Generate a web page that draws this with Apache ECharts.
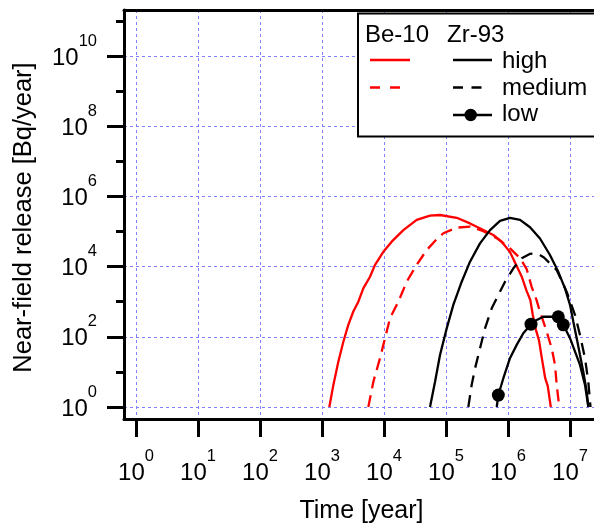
<!DOCTYPE html>
<html>
<head>
<meta charset="utf-8">
<script src="https://cdn.jsdelivr.net/npm/echarts@6/dist/echarts.min.js"></script>
<style>
html,body{margin:0;padding:0;background:#fff;}
#chart{width:594px;height:529px;}
</style>
</head>
<body>
<div id="chart"></div>
<script>
// ---- data (time in years, release in Bq/year) ----
const beHighT = [1312, 1524, 1832, 2208, 2655, 3199, 3855, 4634, 5943, 7161, 9750, 13300, 20500, 33650, 55200, 80000, 148600, 243800, 400000, 579400, 790700, 1.07e6, 1.38e6, 1.66e6, 2.0e6, 2.29e6, 2.51e6, 2.82e6, 3.16e6, 3.47e6, 3.98e6, 4.37e6, 4.9e6];
const beHighV = [1, 4.24, 19.5, 72.4, 219, 525, 1000, 2399, 5129, 11220, 26300, 51300, 109600, 213800, 281800, 295100, 245500, 169800, 109600, 79400, 51300, 26300, 10470, 5250, 2000, 1122, 417, 158, 79.4, 28.2, 6.6, 3.98, 1];

const beMedT = [5585, 6730, 8610, 10380, 12500, 17020, 23230, 33650, 48750, 70800, 90600, 148600, 243800, 400000, 657700, 1.076e6, 1.563e6, 2.0e6, 2.4e6, 2.88e6, 3.28e6, 4.2e6, 5.07e6, 5.73e6, 6.1e6, 6.71e6];
const beMedV = [1, 5.25, 24.5, 91.2, 339, 1000, 3715, 11220, 29510, 60260, 89100, 128800, 138000, 102300, 64570, 33110, 17380, 8510, 2690, 1122, 525, 141, 46.8, 15.8, 4.27, 1];

const zrHighT = [55200, 66530, 80000, 102600, 131200, 179100, 243800, 353200, 512900, 743000, 1.076e6, 1.563e6, 2.265e6, 3.28e6, 4.75e6, 6.47e6, 8.3e6, 1.0e7, 1.132e7, 1.282e7, 1.449e7, 1.64e7, 1.858e7, 1.977e7];
const zrHighV = [1, 5.25, 30.2, 174, 813, 3715, 13800, 45700, 109600, 199500, 245500, 213800, 131800, 63100, 21380, 7080, 2400, 813, 269, 91.2, 30.2, 10, 2.75, 1];

const zrMedT = [229100, 259400, 293800, 353200, 425600, 545800, 698200, 895400, 1.219e6, 1.663e6, 2.24e6, 2.904e6, 3.8e6, 6.1e6, 8.85e6, 1.205e7, 1.449e7, 1.746e7, 1.972e7, 2.14e7];
const zrMedV = [1, 4.27, 12.6, 46.8, 174, 646, 1549, 3715, 8913, 17380, 22900, 23990, 18200, 7943, 1905, 417, 112, 24.5, 5.25, 1];

const zrLowT = [657700, 698200, 841400, 1.076e6, 1.38e6, 1.766e6, 2.35e6, 2.904e6, 3.715e6, 5.07e6, 6.47e6, 7.8e6, 1.0e7, 1.205e7, 1.449e7, 1.746e7, 1.977e7];
const zrLowV = [1, 2.19, 6.6, 24.5, 58.9, 126, 229, 302, 372, 372, 372, 219, 91.2, 38, 15.8, 4.27, 1];
const zrLowMarker = [0, 1, 0, 0, 0, 0, 1, 0, 0, 0, 1, 1, 0, 0, 0, 0, 0];

// tick values
const xTicks = [1, 10, 100, 1e3, 1e4, 1e5, 1e6, 1e7];
const yMajorTicks = [1, 1e2, 1e4, 1e6, 1e8, 1e10];
const yMinorTicks = [10, 1e3, 1e5, 1e7, 1e9, 1e11];

const xTitle = 'Time [year]';
const yTitle = 'Near-field release [Bq/year]';
const legendHeads = ['Be-10', 'Zr-93'];
const legendLabels = ['high', 'medium', 'low'];

// ---- chart ----
const X_MIN = Math.pow(10, -0.194), X_MAX = Math.pow(10, 7.387);
const Y_MIN = Math.pow(10, -0.342), Y_MAX = Math.pow(10, 11.31);
const FONT = '"Liberation Sans", Arial, sans-serif';

function zip(t, v) { return t.map((x, i) => [x, v[i]]); }
function powLabel(v) {
  const e = Math.round(Math.log10(v));
  return '{b|10}{s|' + e + '}';
}
const richLabel = {
  b: { fontSize: 24, fontFamily: FONT, color: '#000', padding: [4, 0, 0, 0] },
  s: { fontSize: 16.5, fontFamily: FONT, color: '#000', padding: [0, 0, 30, 0] }
};
const black = '#000';
const gridLine = { show: true, lineStyle: { color: '#8080ff', width: 1, type: [3, 3] } };

const lowData = zrLowT.map((t, i) => zrLowMarker[i]
  ? { value: [t, zrLowV[i]], symbol: 'circle', symbolSize: 13 }
  : { value: [t, zrLowV[i]] });

const option = {
  animation: false,
  backgroundColor: '#fff',
  grid: { left: 124, right: 0, top: 10, bottom: 110, containLabel: false, outerBoundsMode: 'none' },
  xAxis: [
    {
      type: 'log', logBase: 10, min: X_MIN, max: X_MAX, position: 'bottom',
      axisLine: { show: true, onZero: false, lineStyle: { color: black, width: 3 } },
      axisTick: { show: true, customValues: xTicks, length: 18, lineStyle: { color: black, width: 3 } },
      axisLabel: { customValues: xTicks, formatter: powLabel, rich: richLabel, margin: 29 },
      splitLine: gridLine,
      minorTick: { show: false }, minorSplitLine: { show: false },
      name: xTitle, nameLocation: 'middle', nameGap: 80,
      nameTextStyle: { fontSize: 25, fontFamily: FONT, color: black, padding: [0, 0, 0, 5] }
    },
    {
      type: 'log', logBase: 10, min: X_MIN, max: X_MAX, position: 'top',
      axisLine: { show: true, onZero: false, lineStyle: { color: black, width: 3 } },
      axisTick: { show: false }, axisLabel: { show: false }, splitLine: { show: false }
    }
  ],
  yAxis: [
    {
      type: 'log', logBase: 10, min: Y_MIN, max: Y_MAX, position: 'left',
      axisLine: { show: true, onZero: false, lineStyle: { color: black, width: 3 } },
      axisTick: { show: true, customValues: yMajorTicks, length: 17, lineStyle: { color: black, width: 3 } },
      axisLabel: { customValues: yMajorTicks, formatter: powLabel, rich: richLabel, margin: 27 },
      splitLine: gridLine,
      minorTick: { show: false }, minorSplitLine: { show: false },
      name: yTitle, nameLocation: 'middle', nameGap: 87, nameRotate: 90,
      nameTextStyle: { fontSize: 25.5, fontFamily: FONT, color: black, padding: [0, 6, 0, 0] }
    },
    {
      type: 'log', logBase: 10, min: Y_MIN, max: Y_MAX, position: 'left',
      axisLine: { show: false },
      axisTick: { show: true, customValues: yMinorTicks, length: 8, lineStyle: { color: black, width: 3 } },
      axisLabel: { show: false }, splitLine: { show: false }
    }
  ],
  series: [
    { name: 'Be-10 high', type: 'line', data: zip(beHighT, beHighV), symbol: 'none',
      lineStyle: { color: '#ff0000', width: 2.3 }, z: 3 },
    { name: 'Be-10 medium', type: 'line', data: zip(beMedT, beMedV), symbol: 'none',
      lineStyle: { color: '#ff0000', width: 2.3, type: [12, 7] }, z: 3 },
    { name: 'Zr-93 high', type: 'line', data: zip(zrHighT, zrHighV), symbol: 'none',
      lineStyle: { color: black, width: 2.3 }, z: 4 },
    { name: 'Zr-93 medium', type: 'line', data: zip(zrMedT, zrMedV), symbol: 'none',
      lineStyle: { color: black, width: 2.3, type: [12, 8] }, z: 4 },
    { name: 'Zr-93 low', type: 'line', data: lowData, symbol: 'none', showSymbol: true,
      itemStyle: { color: black }, lineStyle: { color: black, width: 2.3 }, z: 5 }
  ],
  graphic: [
    { type: 'rect', z: 100, shape: { x: 358, y: 13.5, width: 260, height: 123 },
      style: { fill: '#fff', stroke: black, lineWidth: 2 } },
    { type: 'text', z: 101, x: 365, y: 35.5, style: { text: legendHeads[0], fontSize: 24, fontFamily: FONT, fill: black, verticalAlign: 'middle' } },
    { type: 'text', z: 101, x: 447, y: 35.5, style: { text: legendHeads[1], fontSize: 24, fontFamily: FONT, fill: black, verticalAlign: 'middle' } },
    { type: 'line', z: 101, shape: { x1: 370, y1: 60, x2: 410, y2: 60 }, style: { stroke: '#ff0000', lineWidth: 2.3 } },
    { type: 'line', z: 101, shape: { x1: 370, y1: 87.5, x2: 400, y2: 87.5 }, style: { stroke: '#ff0000', lineWidth: 2.3, lineDash: [10, 10] } },
    { type: 'line', z: 101, shape: { x1: 453, y1: 60, x2: 492, y2: 60 }, style: { stroke: black, lineWidth: 2.3 } },
    { type: 'line', z: 101, shape: { x1: 453, y1: 87.5, x2: 482, y2: 87.5 }, style: { stroke: black, lineWidth: 2.3, lineDash: [10, 8.5] } },
    { type: 'line', z: 101, shape: { x1: 453, y1: 115, x2: 492, y2: 115 }, style: { stroke: black, lineWidth: 2.3 } },
    { type: 'circle', z: 102, shape: { cx: 470.7, cy: 115, r: 6.2 }, style: { fill: black } },
    { type: 'text', z: 101, x: 502, y: 61, style: { text: legendLabels[0], fontSize: 24, fontFamily: FONT, fill: black, verticalAlign: 'middle' } },
    { type: 'text', z: 101, x: 502, y: 88.5, style: { text: legendLabels[1], fontSize: 24, fontFamily: FONT, fill: black, verticalAlign: 'middle' } },
    { type: 'text', z: 101, x: 502, y: 114.5, style: { text: legendLabels[2], fontSize: 24, fontFamily: FONT, fill: black, verticalAlign: 'middle' } }
  ]
};

const chart = echarts.init(document.getElementById('chart'), null, { renderer: 'canvas' });
chart.setOption(option);
</script>
</body>
</html>
